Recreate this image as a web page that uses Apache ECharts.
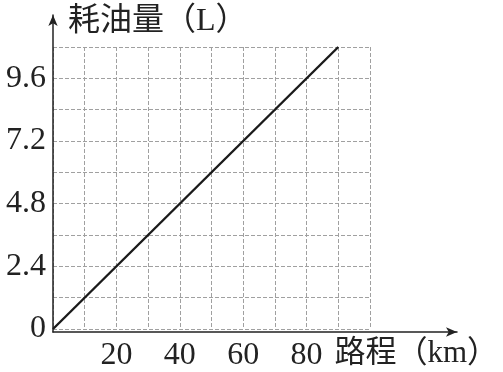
<!DOCTYPE html>
<html>
<head>
<meta charset="utf-8">
<script src="https://cdn.jsdelivr.net/npm/echarts@6/dist/echarts.min.js"></script>
<style>html,body{margin:0;padding:0;background:#fff}#c{width:503px;height:372px}</style>
</head>
<body>
<div id="c"></div>
<script>
// data
const distanceKm = [0, 90];
const fuelL = [0, 10.8];
const xTickLabels = [20, 40, 60, 80];
const yTickLabels = [0, 2.4, 4.8, 7.2, 9.6];
const xName = '路程（km）';
const yName = '耗油量（L）';

const serif = '"Liberation Serif", "Noto Sans CJK SC", serif';
const near = (a, b) => Math.abs(a - b) < 1e-6;

const chart = echarts.init(document.getElementById('c'), null, {renderer: 'canvas'});
chart.setOption({
  animation: false,
  backgroundColor: '#fff',
  grid: [
    {left: 53, top: 47, width: 317, height: 285, containLabel: false},
    {left: 53, top: 15, right: 46, bottom: 40, containLabel: false}
  ],
  xAxis: [
    {
      gridIndex: 0, type: 'value', min: 0, max: 100, interval: 10,
      axisLine: {show: false}, axisTick: {show: false},
      splitLine: {show: true, lineStyle: {color: '#a0a0a0', width: 1, type: [4, 2]}},
      axisLabel: {
        margin: 11, color: '#222', fontFamily: serif, fontSize: 32,
        formatter: v => xTickLabels.some(t => near(t, v)) ? String(Math.round(v)) : ''
      }
    },
    {
      gridIndex: 1, type: 'value', min: 0, max: 1,
      axisLine: {show: true, symbol: ['none', 'arrow'], symbolSize: [7, 11],
        lineStyle: {color: '#222', width: 1.5}},
      axisTick: {show: false}, axisLabel: {show: false}, splitLine: {show: false},
      name: xName, nameLocation: 'end', nameGap: 41,
      nameTextStyle: {color: '#222', fontFamily: serif, fontSize: 31, align: 'right', verticalAlign: 'top', padding: [6, 0, 0, 0]}
    }
  ],
  yAxis: [
    {
      gridIndex: 0, type: 'value', min: 0, max: 10.8, interval: 1.2,
      axisLine: {show: false}, axisTick: {show: false},
      splitLine: {show: true, lineStyle: {color: '#a0a0a0', width: 1, type: [4, 2]}},
      axisLabel: {
        margin: 7, color: '#222', fontFamily: serif, fontSize: 32,
        formatter: v => {
          const t = yTickLabels.find(t => near(t, v));
          if (t === undefined) return '';
          return t === 0 ? '0' : t.toFixed(1);
        }
      }
    },
    {
      gridIndex: 1, type: 'value', min: 0, max: 1,
      axisLine: {show: true, symbol: ['none', 'arrow'], symbolSize: [7, 11],
        lineStyle: {color: '#222', width: 1.5}},
      axisTick: {show: false}, axisLabel: {show: false}, splitLine: {show: false},
      name: yName, nameLocation: 'end', nameGap: -7,
      nameTextStyle: {color: '#222', fontFamily: serif, fontSize: 32, align: 'left', verticalAlign: 'middle', padding: [0, 0, 0, 15]}
    }
  ],
  series: [{
    type: 'line', xAxisIndex: 0, yAxisIndex: 0,
    data: distanceKm.map((d, i) => [d, fuelL[i]]),
    symbol: 'none',
    lineStyle: {color: '#1a1a1a', width: 2.4}
  }]
});
</script>
</body>
</html>
